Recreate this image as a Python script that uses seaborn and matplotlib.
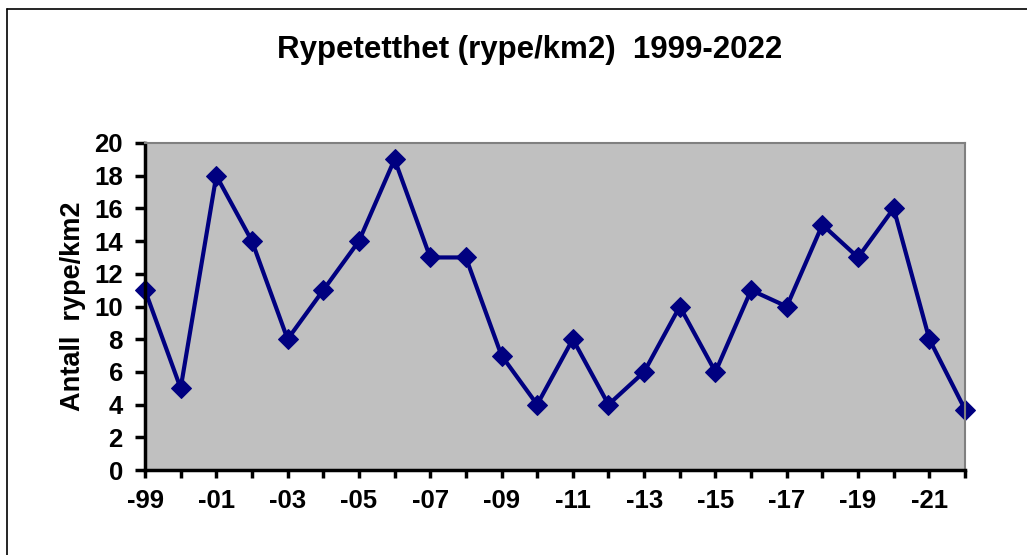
import numpy as np
import pandas as pd
import matplotlib
matplotlib.use("Agg")
import matplotlib.pyplot as plt
from matplotlib.lines import Line2D
import seaborn as sns

years = list(range(1999, 2023))
density = [11, 5, 18, 14, 8, 11, 14, 19, 13, 13, 7, 4, 8, 4, 6, 10, 6, 11, 10, 15, 13, 16, 8, 3.7]
label_years = list(range(1999, 2022, 2))
tick_labels = ["-99", "-01", "-03", "-05", "-07", "-09", "-11", "-13", "-15", "-17", "-19", "-21"]

df = pd.DataFrame({"year": years, "density": density})

sns.set_style("white")
plt.rcParams["font.family"] = ["Liberation Sans", "DejaVu Sans"]
plt.rcParams["font.weight"] = "bold"
plt.rcParams["text.color"] = "black"
plt.rcParams["axes.labelcolor"] = "black"
plt.rcParams["xtick.color"] = "black"
plt.rcParams["ytick.color"] = "black"

fig = plt.figure(figsize=(10.27, 5.55), dpi=100)
ax = fig.add_axes([145 / 1027, 1 - 470 / 555, 820 / 1027, 327 / 555])
ax.set_facecolor("#C0C0C0")

sns.lineplot(data=df, x="year", y="density", ax=ax, color="#000080",
             linewidth=3, marker="D", markersize=10, markeredgecolor="#000080",
             clip_on=False)

ax.set_xlim(1999, 2022)
ax.set_ylim(0, 20)
ax.set_yticks(range(0, 21, 2))
ax.set_xticks(years, minor=True)
ax.set_xticks(label_years)
ax.set_xticklabels(tick_labels)
ax.tick_params(axis="both", which="both", direction="out", width=2.5,
               color="black", labelcolor="black", labelsize=18.5)
ax.tick_params(axis="x", which="both", bottom=True, length=6, pad=8)
ax.tick_params(axis="y", left=True, length=7, pad=9)
for lab in ax.get_xticklabels() + ax.get_yticklabels():
    lab.set_fontweight("bold")

for side in ["left", "bottom"]:
    ax.spines[side].set_color("black")
    ax.spines[side].set_linewidth(2.5)
for side in ["top", "right"]:
    ax.spines[side].set_color("#808080")
    ax.spines[side].set_linewidth(1.5)

ax.set_xlabel("")
ax.set_ylabel("Antall  rype/km2", fontsize=19.5, fontweight="bold", labelpad=6)

fig.text(530 / 1027, 1 - 50 / 555, "Rypetetthet (rype/km2)  1999-2022",
         ha="center", va="center", fontsize=22.5, fontweight="bold")

# outer frame (top and left edges visible)
fig.add_artist(Line2D([7 / 1027, 7 / 1027], [0, 1 - 9 / 555], color="black", linewidth=1.2))
fig.add_artist(Line2D([7 / 1027, 1], [1 - 9 / 555, 1 - 9 / 555], color="black", linewidth=1.2))

fig.savefig("out.png", dpi=100)
